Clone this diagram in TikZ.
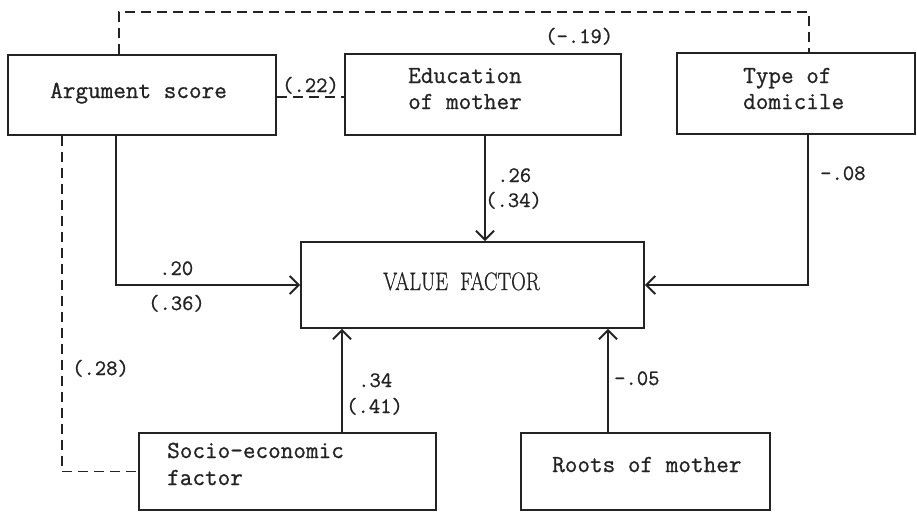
\documentclass[tikz,border=0pt]{standalone}
\usepackage{fontspec}
\usetikzlibrary{arrows.meta,calc}
\newfontfamily\typewriter{Latin Modern Mono}[FakeBold=0.9]
\newfontfamily\headserif{Latin Modern Roman}[FakeBold=0.8]
\definecolor{ink}{RGB}{35,35,35}
\begin{document}
\begin{tikzpicture}[x=1pt,y=-1pt,
  box/.style={draw=ink,line width=1.9pt,rectangle,inner sep=0pt},
  boxtext/.style={inner sep=0pt,anchor=base west,text=ink,
    font=\fontsize{24.5}{26}\selectfont\typewriter},
  coef/.style={inner sep=0pt,anchor=base west,text=ink,
    font=\fontsize{22}{24}\selectfont\typewriter},
  path/.style={draw=ink,line width=1.9pt},
  corr/.style={draw=ink,line width=1.9pt,dash pattern=on 10pt off 6pt},
  effect/.style={path,-{Straight Barb[length=9pt,width=18pt,line width=1.9pt]}}]
\useasboundingbox (0,0) rectangle (917,512);

% variable boxes
\node[box,minimum width=268pt,minimum height=80pt] (arg) at (142,95) {};
\node[box,minimum width=276pt,minimum height=81pt] (edu) at (483,94.5) {};
\node[box,minimum width=238pt,minimum height=81pt] (typ) at (796,93.5) {};
\node[box,minimum width=343pt,minimum height=86pt] (val) at (472.5,285) {};
\node[box,minimum width=297pt,minimum height=77pt] (soc) at (287.5,471.5) {};
\node[box,minimum width=249pt,minimum height=77pt] (roo) at (645.5,471.5) {};

% box captions
\node[boxtext] (argtxt) at (50,98) {Argument score};
\node[boxtext] (edutxt1) at (408,83) {Education};
\node[boxtext] (edutxt2) at (408,109) {of mother};
\node[boxtext] (typtxt1) at (743,83) {Type of};
\node[boxtext] (typtxt2) at (743,109) {domicile};
\node[inner sep=0pt,anchor=base west,text=ink] (valtxt) at (383,290)
  {\scalebox{0.97}[1.2]{\fontsize{21}{22}\selectfont\headserif VALUE\hspace{0.6em}FACTOR}};
\node[boxtext] (soctxt1) at (167,458) {Socio-economic};
\node[boxtext] (soctxt2) at (167,485) {factor};
\node[boxtext] (rootxt) at (552,472) {Roots of mother};

% correlations (dashed)
\draw[corr] (arg.north -| 119,0) -- ++(0,-42) -| (typ.north -| 809,0);
\draw[corr] (arg.east |- 0,97) -- (edu.west |- 0,97);
\draw[corr] (arg.south -| 62,0) |- (soc.west);

% direct effects on the value factor
\draw[effect] (arg.south -| 116,0) |- (val.west);
\draw[effect] (edu.south -| 485,0) -- (val.north -| 485,0);
\draw[effect] (typ.south -| 808,0) |- (val.east);
\draw[effect] (soc.north -| 342,0) -- (val.south -| 342,0);
\draw[effect] (roo.north -| 608,0) -- (val.south -| 608,0);

% coefficients
\node[coef] (c19) at (545,43) {(-.19)};
\node[coef] (c22) at (282,92) {(.22)};
\node[coef] (c26) at (497,182) {.26};
\node[coef] (c34b) at (485,207) {(.34)};
\node[coef] (c08) at (820,180) {-.08};
\node[coef] (c20) at (159,275) {.20};
\node[coef] (c36) at (148,310) {(.36)};
\node[coef] (c28) at (72,375) {(.28)};
\node[coef] (c34) at (358,387) {.34};
\node[coef] (c41) at (346,413) {(.41)};
\node[coef] (c05) at (614,385) {-.05};
\end{tikzpicture}
\end{document}
